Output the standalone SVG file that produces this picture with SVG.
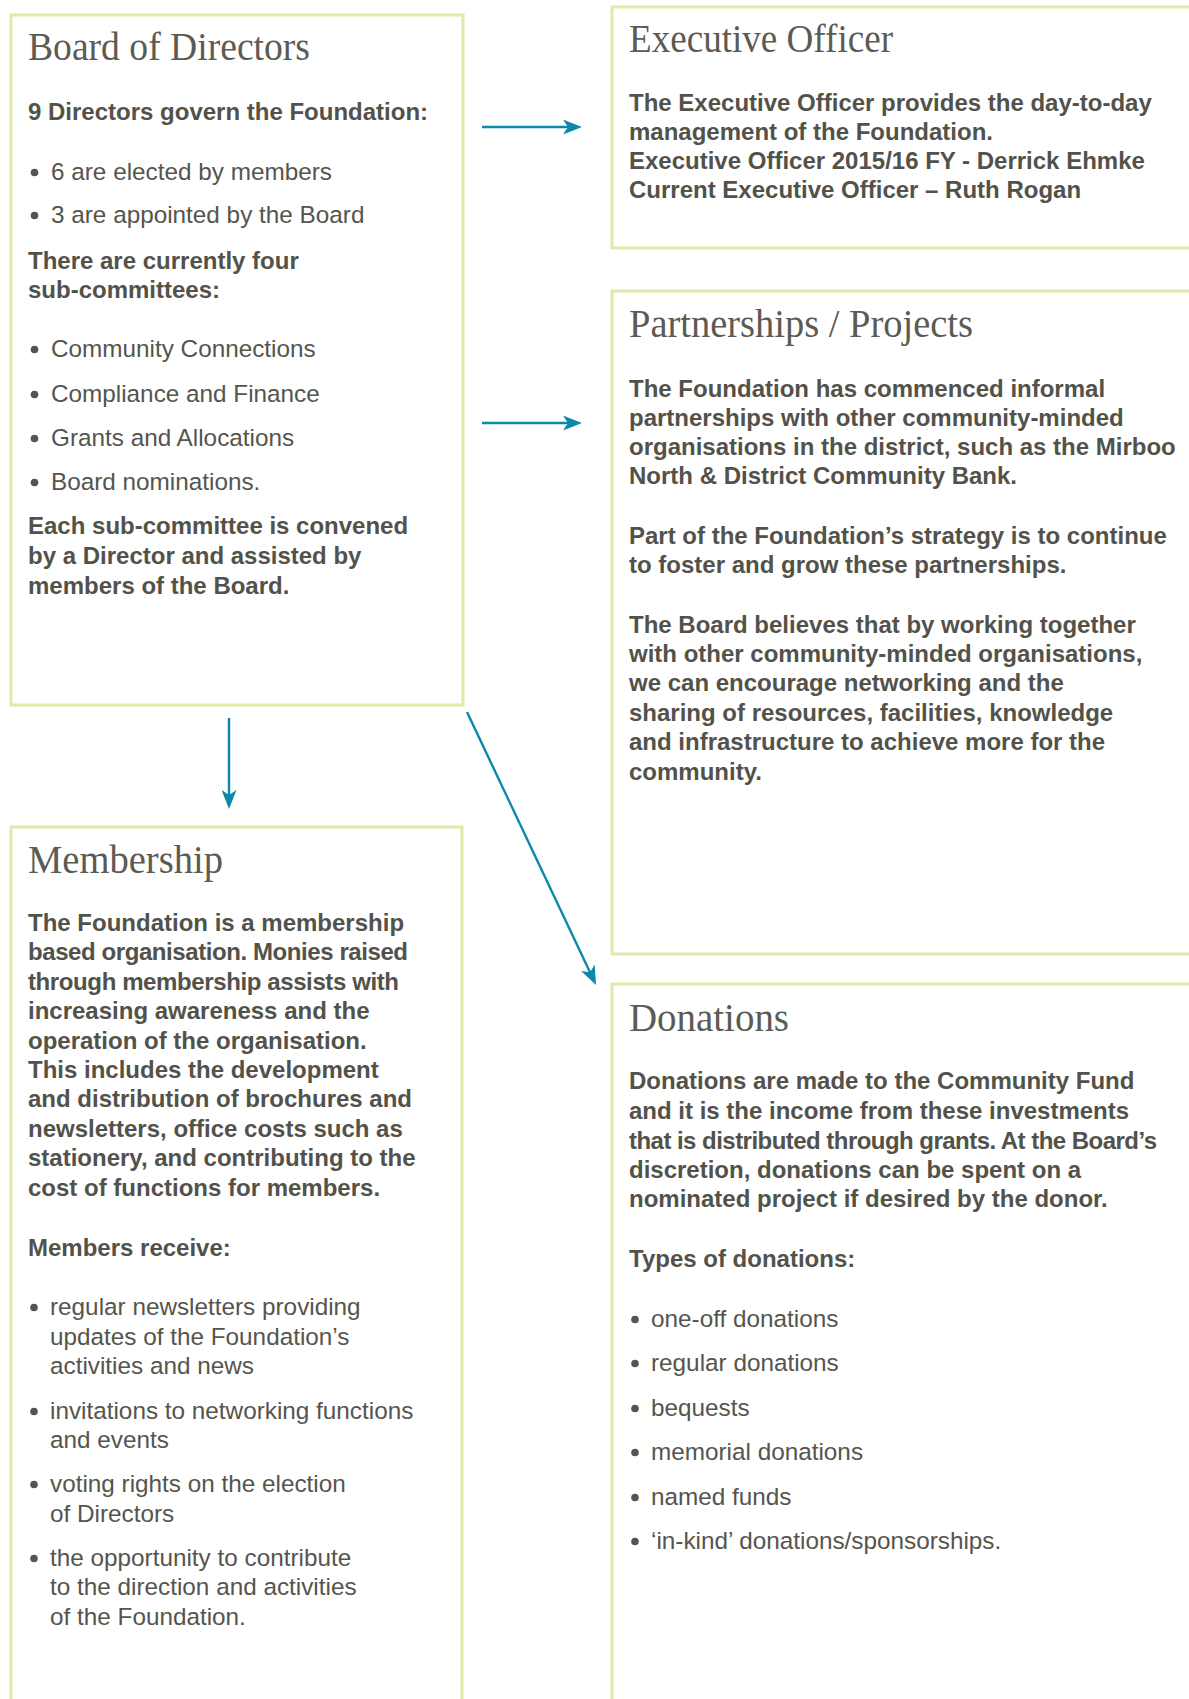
<svg xmlns="http://www.w3.org/2000/svg" width="1189" height="1699" viewBox="0 0 1189 1699">
<style>
.box{fill:#ffffff;stroke:#dfe9aa;stroke-width:3}
.title{font-family:"Liberation Serif",serif;font-size:40px;fill:#5c5b53}
.b{font-family:"Liberation Sans",Arial,sans-serif;font-size:24px;font-weight:bold;fill:#52524a}
.r{font-family:"Liberation Sans",Arial,sans-serif;font-size:24.3px;fill:#55554d}
.dot{fill:#55554d}
.conn{stroke:#0b88aa;stroke-width:2.4;fill:none;marker-end:url(#ah)}
</style>
<defs>
<marker id="ah" markerUnits="userSpaceOnUse" viewBox="0 0 19 15" markerWidth="19" markerHeight="15" refX="14" refY="7.5" orient="auto">
<path d="M0,0 L19,7.5 L0,15 L5,7.5 Z" fill="#0b88aa"/>
</marker>
<circle id="bl" r="3.8"/>
</defs>
<rect width="1189" height="1699" fill="#ffffff"/>

<g id="board">
<rect class="box" x="11" y="15" width="452" height="690"/>
<text class="title" x="28" y="60" textLength="282" lengthAdjust="spacingAndGlyphs">Board of Directors</text>
<text class="b" x="28" y="120">9 Directors govern the Foundation:</text>
<g class="dot"><use href="#bl" x="34.5" y="172.5"/><use href="#bl" x="34.5" y="215.5"/><use href="#bl" x="34.5" y="349.5"/><use href="#bl" x="34.5" y="394.5"/><use href="#bl" x="34.5" y="438.5"/><use href="#bl" x="34.5" y="482.5"/></g>
<text class="r"><tspan x="51" y="180">6 are elected by members</tspan><tspan x="51" y="223">3 are appointed by the Board</tspan></text>
<text class="b"><tspan x="28" y="269">There are currently four</tspan><tspan x="28" y="298">sub-committees:</tspan></text>
<text class="r"><tspan x="51" y="357">Community Connections</tspan><tspan x="51" y="402">Compliance and Finance</tspan><tspan x="51" y="446">Grants and Allocations</tspan><tspan x="51" y="490">Board nominations.</tspan></text>
<text class="b"><tspan x="28" y="534">Each sub-committee is convened</tspan><tspan x="28" y="564">by a Director and assisted by</tspan><tspan x="28" y="594">members of the Board.</tspan></text>
</g>

<g id="executive">
<rect class="box" x="612" y="7" width="600" height="241"/>
<text class="title" x="629" y="52" textLength="264" lengthAdjust="spacingAndGlyphs">Executive Officer</text>
<text class="b"><tspan x="629" y="111">The Executive Officer provides the day-to-day</tspan><tspan x="629" y="140">management of the Foundation.</tspan><tspan x="629" y="169">Executive Officer 2015/16 FY - Derrick Ehmke</tspan><tspan x="629" y="198">Current Executive Officer – Ruth Rogan</tspan></text>
</g>

<g id="partnerships">
<rect class="box" x="612" y="291" width="600" height="663"/>
<text class="title" x="629" y="337" textLength="344" lengthAdjust="spacingAndGlyphs">Partnerships / Projects</text>
<text class="b"><tspan x="629" y="397">The Foundation has commenced informal</tspan><tspan x="629" y="426">partnerships with other community-minded</tspan><tspan x="629" y="455">organisations in the district, such as the Mirboo</tspan><tspan x="629" y="484">North &amp; District Community Bank.</tspan></text>
<text class="b"><tspan x="629" y="544">Part of the Foundation’s strategy is to continue</tspan><tspan x="629" y="573">to foster and grow these partnerships.</tspan></text>
<text class="b"><tspan x="629" y="633">The Board believes that by working together</tspan><tspan x="629" y="662">with other community-minded organisations,</tspan><tspan x="629" y="691">we can encourage networking and the</tspan><tspan x="629" y="721">sharing of resources, facilities, knowledge</tspan><tspan x="629" y="750">and infrastructure to achieve more for the</tspan><tspan x="629" y="780">community.</tspan></text>
</g>

<g id="membership">
<rect class="box" x="11" y="827" width="451" height="900"/>
<text class="title" x="28" y="873" textLength="195" lengthAdjust="spacingAndGlyphs">Membership</text>
<text class="b"><tspan x="28" y="931">The Foundation is a membership</tspan><tspan x="28" y="960" textLength="380">based organisation. Monies raised</tspan><tspan x="28" y="990" textLength="371">through membership assists with</tspan><tspan x="28" y="1019">increasing awareness and the</tspan><tspan x="28" y="1049">operation of the organisation.</tspan><tspan x="28" y="1078">This includes the development</tspan><tspan x="28" y="1107">and distribution of brochures and</tspan><tspan x="28" y="1137">newsletters, office costs such as</tspan><tspan x="28" y="1166">stationery, and contributing to the</tspan><tspan x="28" y="1196">cost of functions for members.</tspan></text>
<text class="b" x="28" y="1256">Members receive:</text>
<g class="dot"><use href="#bl" x="34" y="1307.5"/><use href="#bl" x="34" y="1411.5"/><use href="#bl" x="34" y="1484.5"/><use href="#bl" x="34" y="1558.5"/></g>
<text class="r"><tspan x="50" y="1315">regular newsletters providing</tspan><tspan x="50" y="1345">updates of the Foundation’s</tspan><tspan x="50" y="1374">activities and news</tspan><tspan x="50" y="1419">invitations to networking functions</tspan><tspan x="50" y="1448">and events</tspan><tspan x="50" y="1492">voting rights on the election</tspan><tspan x="50" y="1522">of Directors</tspan><tspan x="50" y="1566">the opportunity to contribute</tspan><tspan x="50" y="1595">to the direction and activities</tspan><tspan x="50" y="1625">of the Foundation.</tspan></text>
</g>

<g id="donations">
<rect class="box" x="612" y="984" width="600" height="760"/>
<text class="title" x="629" y="1031" textLength="160" lengthAdjust="spacingAndGlyphs">Donations</text>
<text class="b"><tspan x="629" y="1089">Donations are made to the Community Fund</tspan><tspan x="629" y="1119">and it is the income from these investments</tspan><tspan x="629" y="1149" textLength="528">that is distributed through grants. At the Board’s</tspan><tspan x="629" y="1178">discretion, donations can be spent on a</tspan><tspan x="629" y="1207">nominated project if desired by the donor.</tspan></text>
<text class="b" x="629" y="1267">Types of donations:</text>
<g class="dot"><use href="#bl" x="635" y="1319.5"/><use href="#bl" x="635" y="1363.5"/><use href="#bl" x="635" y="1408.5"/><use href="#bl" x="635" y="1452.5"/><use href="#bl" x="635" y="1497.5"/><use href="#bl" x="635" y="1541.5"/></g>
<text class="r"><tspan x="651" y="1327">one-off donations</tspan><tspan x="651" y="1371">regular donations</tspan><tspan x="651" y="1416">bequests</tspan><tspan x="651" y="1460">memorial donations</tspan><tspan x="651" y="1505">named funds</tspan><tspan x="651" y="1549">‘in-kind’ donations/sponsorships.</tspan></text>
</g>

<g id="connectors">
<line class="conn" x1="482" y1="127" x2="577" y2="127"/>
<line class="conn" x1="229" y1="718" x2="229" y2="804"/>
<line class="conn" x1="482" y1="423" x2="577" y2="423"/>
<line class="conn" x1="467" y1="712" x2="593.9" y2="980.5"/>
</g>
</svg>
